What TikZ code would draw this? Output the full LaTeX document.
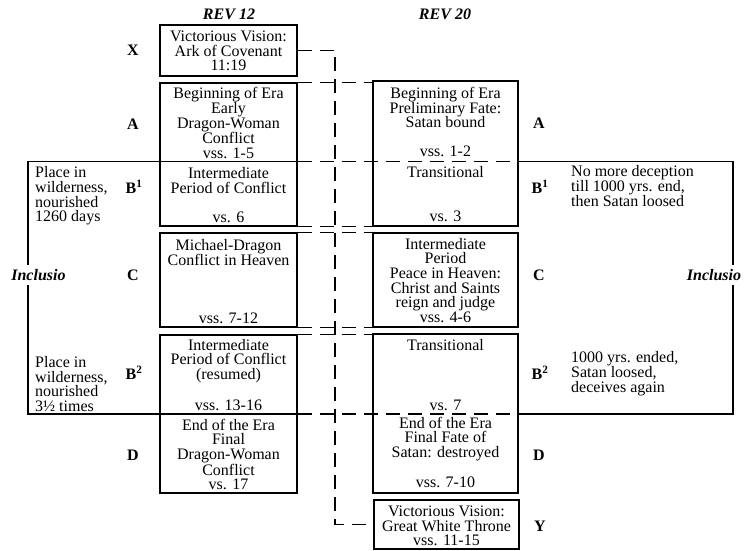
\documentclass[tikz,border=0pt]{standalone}
\usepackage{fontspec}
\setmainfont{Liberation Serif}
\usetikzlibrary{calc}
\begin{document}
\begin{tikzpicture}[x=1pt,y=-1pt,every node/.style={font=\fontsize{16}{14.7}\selectfont,inner sep=0pt},
bx/.style 2 args={draw,line width=1.1pt,minimum width=#1,minimum height=#2},
txt/.style={align=center},side/.style={align=left,anchor=west},
lbl/.style={font=\fontsize{16}{14.7}\selectfont\bfseries},hd/.style={font=\fontsize{16}{14.7}\selectfont\bfseries\itshape},
sl/.style={line width=1.1pt},dl/.style={line width=1.1pt,dash pattern=on 14pt off 8pt}]
\useasboundingbox (0,0) rectangle (744,550);
\node[hd] (rev12) at (229,14) {REV 12};\node[hd] (rev20) at (445,14) {REV 20};
\node[bx={137pt}{51pt}] (lx) at (228.5,50.5) {};\node[bx={137pt}{143pt}] (lab) at (228.5,154.5) {};
\node[bx={137pt}{94pt}] (lc) at (228.5,280) {};\node[bx={137pt}{158pt}] (lbd) at (228.5,414) {};
\node[bx={145pt}{145pt}] (rab) at (445.5,153.5) {};\node[bx={145pt}{94pt}] (rc) at (445.5,280) {};
\node[bx={145pt}{159pt}] (rbd) at (445.5,413.5) {};\node[bx={145pt}{49pt}] (ry) at (446.5,524.5) {};
\node[txt] (lxt) at (228.5,51) {Victorious Vision:\\Ark of Covenant\\11:19};
\node[txt] (lat) at (228.5,123) {Beginning of Era\\Early\\Dragon-Woman\\Conflict\\vss. 1-5};
\node[txt] (lb1t) at (228.5,180.5) {Intermediate\\Period of Conflict};\node (lb1v) at (228.5,217) {vs. 6};
\node[txt] (lct) at (228.5,252.5) {Michael-Dragon\\Conflict in Heaven};\node (lcv) at (228.5,318) {vss. 7-12};
\node[txt] (lb2t) at (228.5,361) {Intermediate\\Period of Conflict\\(resumed)};\node (lb2v) at (228.5,405) {vss. 13-16};
\node[txt] (ldt) at (228.5,454.5) {End of the Era\\Final\\Dragon-Woman\\Conflict\\vs. 17};
\node[txt] (rat) at (445.5,107.5) {Beginning of Era\\Preliminary Fate:\\Satan bound};\node (rav) at (445.5,151) {vss. 1-2};
\node (rb1t) at (445.5,172) {Transitional};\node (rb1v) at (445.5,216) {vs. 3};
\node[txt] (rct) at (445.5,280.5) {Intermediate\\Period\\Peace in Heaven:\\Christ and Saints\\reign and judge\\vss. 4-6};
\node (rb2t) at (445.5,345) {Transitional};\node (rb2v) at (445.5,405) {vs. 7};
\node[txt] (rdt) at (445.5,439) {End of the Era\\Final Fate of\\Satan: destroyed};\node (rdv) at (445.5,482) {vss. 7-10};
\node[txt] (ryt) at (446.5,526) {Victorious Vision:\\Great White Throne\\vss. 11-15};
\node[lbl] (lX) at (133,50) {X};\node[lbl] (lA) at (133,124) {A};\node[lbl] (lB1) at (134,187) {B\textsuperscript{1}};
\node[lbl] (lC) at (133,275) {C};\node[lbl] (lB2) at (134,373) {B\textsuperscript{2}};\node[lbl] (lD) at (133,455) {D};
\node[lbl] (rA) at (539,123) {A};\node[lbl] (rB1) at (540,187) {B\textsuperscript{1}};\node[lbl] (rC) at (539,275) {C};
\node[lbl] (rB2) at (540,373) {B\textsuperscript{2}};\node[lbl] (rD) at (539,455) {D};\node[lbl] (rY) at (540,526) {Y};
\node[side] (lw1) at (35,196) {Place in\\wilderness,\\nourished\\1260 days};
\node[side] (lw2) at (35,384) {Place in\\wilderness,\\nourished\\3½ times};
\node[side] (rn1) at (571,186) {No more deception\\till 1000 yrs. end,\\then Satan loosed};
\node[side] (rn2) at (571,373.5) {1000 yrs. ended,\\Satan loosed,\\deceives again};
\coordinate (sp) at (335,0);\coordinate (d1) at (0,161.5);\coordinate (d2) at (0,414);
\coordinate (lbrk) at (28,300);\coordinate (rbrk) at (733,300);
\draw[dl] (lx.east) -| (sp |- ry.west) -- (ry.west);
\draw[dl] (lab.north east) -- (lab.north east -| rab.west);
\draw[dl] (lab.south east) -- (rab.south west);\draw[dl] (lc.north east) -- (rc.north west);
\draw[dl] (lc.south east) -- (rc.south west);\draw[dl] (lbd.north east) -- (lbd.north east -| rbd.west);
\draw[dl] (lab.east |- d1) -- (rab.east |- d1);\draw[dl] (lbd.east |- d2) -- (rbd.east |- d2);
\draw[sl] (lab.east |- d1) -| (lbrk) |- (lbd.east |- d2);
\draw[sl] (rab.east |- d1) -| (rbrk) |- (rbd.east |- d2);
\node[hd,fill=white,inner xsep=1pt,inner ysep=4pt] (linc) at (38.5,275) {Inclusio};
\node[hd,fill=white,inner xsep=1pt,inner ysep=4pt] (rinc) at (714,275) {Inclusio};
\end{tikzpicture}
\end{document}
